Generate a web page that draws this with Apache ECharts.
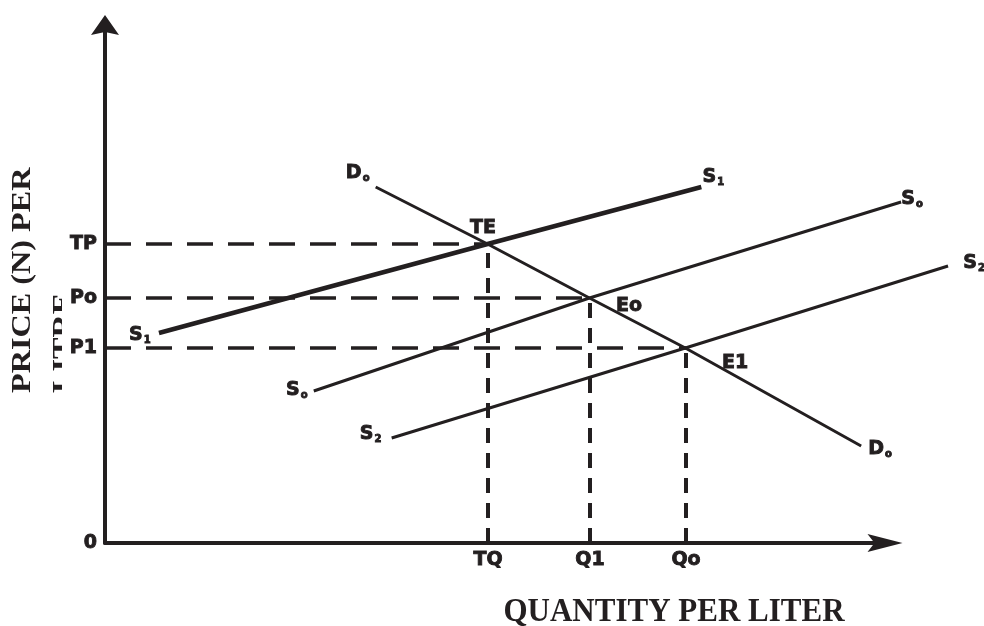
<!DOCTYPE html>
<html>
<head>
<meta charset="utf-8">
<script src="https://cdn.jsdelivr.net/npm/echarts@6/dist/echarts.min.js"></script>
<style>html,body{margin:0;padding:0;background:#fff}#c{width:984px;height:626px}</style>
</head>
<body>
<div id="c"></div>
<script>
// ---- data (quantity on x, price on y) ----
const qtyTickLabels = ['TQ', 'Q1', 'Qo'];
const qtyTickValues = [38.3, 48.5, 58.1];
const priceTickLabels = ['TP', 'Po', 'P1'];
const priceTickValues = [29.9, 24.5, 19.5];
const equilibriumNames = ['TE', 'Eo', 'E1'];
const demandD0 = [[27.1, 35.6], [38.3, 29.9], [48.5, 24.5], [58.1, 19.5], [75.7, 9.7]];
const supplyS1 = [[5.4, 21.0], [38.3, 29.9], [59.7, 35.6]];
const supplyS0 = [[20.9, 15.2], [48.5, 24.5], [79.7, 34.1]];
const supplyS2 = [[28.7, 10.5], [58.1, 19.5], [84.4, 27.7]];

// ---- styling ----
const INK = '#231f20';
const MARK_FONT = 'DejaVu Sans';
const HEAVY = { textBorderColor: INK, textBorderWidth: 0.9 };
const rich = {
  m: Object.assign({ fontFamily: MARK_FONT, fontWeight: 'bold', fontSize: 19, color: INK, lineHeight: 22, verticalAlign: 'bottom' }, HEAVY),
  s: Object.assign({ fontFamily: MARK_FONT, fontWeight: 'bold', fontSize: 10, color: INK, lineHeight: 14, verticalAlign: 'bottom', padding: [0, 0, 0, 1] }, HEAVY)
};
function markLabel(main, sub, off) {
  return { show: true, position: 'inside', offset: off, color: INK, opacity: 1,
    formatter: '{m|' + main + '}' + (sub ? '{s|' + sub + '}' : ''), rich };
}
function curveSeries(pts, main, sub, width, offStart, offEnd) {
  return {
    type: 'line', silent: true, clip: false, z: 3, xAxisIndex: 1, yAxisIndex: 1,
    symbol: 'circle', symbolSize: 0, showSymbol: true, showAllSymbol: true,
    lineStyle: { color: INK, width: width }, itemStyle: { color: INK, opacity: 1 },
    emphasis: { disabled: true },
    data: pts.map((p, i) => {
      const item = { value: p };
      if (i === 0) item.label = markLabel(main, sub, offStart);
      else if (i === pts.length - 1) item.label = markLabel(main, sub, offEnd);
      return item;
    })
  };
}
const guideSeries = [];
qtyTickValues.forEach((q, i) => {
  const p = priceTickValues[i];
  guideSeries.push({
    type: 'line', silent: true, symbol: 'none', z: 2, emphasis: { disabled: true },
    lineStyle: { color: INK, width: 3.5, type: [26, 15] },
    data: [[0, p], [q, p]]
  });
  guideSeries.push({
    type: 'line', silent: true, symbol: 'none', z: 2, emphasis: { disabled: true },
    lineStyle: { color: INK, width: 4, type: [15, 10] },
    data: [[q, 0], [q, p]]
  });
});
const eqOffsets = [[-5, -17], [39, 7], [49, 14]];
const eqSeries = {
  type: 'scatter', silent: true, symbolSize: 0, z: 4, emphasis: { disabled: true },
  itemStyle: { color: INK, opacity: 1 },
  data: equilibriumNames.map((n, i) => ({
    value: [qtyTickValues[i], priceTickValues[i]],
    label: markLabel(n, '', eqOffsets[i])
  }))
};
function pick(values, labels) {
  return function (v) {
    if (Math.abs(v) < 1e-9) return '0';
    const i = values.findIndex(t => Math.abs(t - v) < 1e-6);
    return i >= 0 ? labels[i] : '';
  };
}
const tickText = Object.assign({ fontFamily: MARK_FONT, fontWeight: 'bold', fontSize: 19, color: INK, margin: 8 }, HEAVY);
const GRID_TOP = 25, GRID_H = 518, Y_MAX = 51.8;

const chart = echarts.init(document.getElementById('c'), null, { renderer: 'canvas' });
chart.setOption({
  animation: false,
  backgroundColor: '#fff',
  grid: [
    { left: 105, top: GRID_TOP, width: 780, height: GRID_H, containLabel: false },
    { left: 105, top: GRID_TOP, width: 880, height: GRID_H, containLabel: false }
  ],
  xAxis: [{
    type: 'value', min: 0, max: 78, gridIndex: 0,
    axisLine: { show: true, onZero: false, lineStyle: { color: INK, width: 4 },
      symbol: ['none', 'path://M0,0L9,35L0,28L-9,35Z'], symbolSize: [18, 35] },
    axisTick: { show: false }, splitLine: { show: false },
    axisLabel: Object.assign({ customValues: qtyTickValues, formatter: v => pick(qtyTickValues, qtyTickLabels)(v) || '' }, tickText)
  }, {
    type: 'value', min: 0, max: 88, gridIndex: 1, show: false
  }],
  yAxis: [{
    type: 'value', min: 0, max: Y_MAX, gridIndex: 0,
    axisLine: { show: true, onZero: false, lineStyle: { color: INK, width: 4 },
      symbol: ['none', 'path://M0,0L14,20L0,17L-14,20Z'], symbolSize: [28, 20] },
    axisTick: { show: false }, splitLine: { show: false },
    axisLabel: Object.assign({ customValues: [0].concat(priceTickValues), formatter: pick(priceTickValues, priceTickLabels) }, tickText)
  }, {
    type: 'value', min: 0, max: Y_MAX, gridIndex: 1, show: false
  }],
  graphic: [
    {
      type: 'text', x: 2, y: 393, rotation: Math.PI / 2, scaleX: 1.15, z: -2, silent: true,
      style: { text: 'PRICE (N) PER\nLITRE', font: 'bold 28px "Liberation Serif"', fill: INK,
        textAlign: 'left', align: 'left', textVerticalAlign: 'top', verticalAlign: 'top', lineHeight: 41 }
    },
    { type: 'rect', z: -1, silent: true, shape: { x: 62, y: 285, width: 10.5, height: 115 }, style: { fill: '#fff' } },
    {
      type: 'text', x: 674, y: 612, scaleY: 1.1, silent: true,
      style: { text: 'QUANTITY PER LITER', font: 'bold 31px "Liberation Serif"', fill: INK,
        textAlign: 'center', align: 'center', textVerticalAlign: 'middle', verticalAlign: 'middle' }
    }
  ],
  series: guideSeries.concat([
    curveSeries(demandD0, 'D', 'o', 3, [-18, -15], [19, 2]),
    curveSeries(supplyS1, 'S', '1', 4.5, [-19, 1], [12, -11]),
    curveSeries(supplyS0, 'S', 'o', 3, [-17, -2], [11, -4]),
    curveSeries(supplyS2, 'S', '2', 3, [-21, -5], [26, -4]),
    eqSeries
  ])
});
</script>
</body>
</html>
